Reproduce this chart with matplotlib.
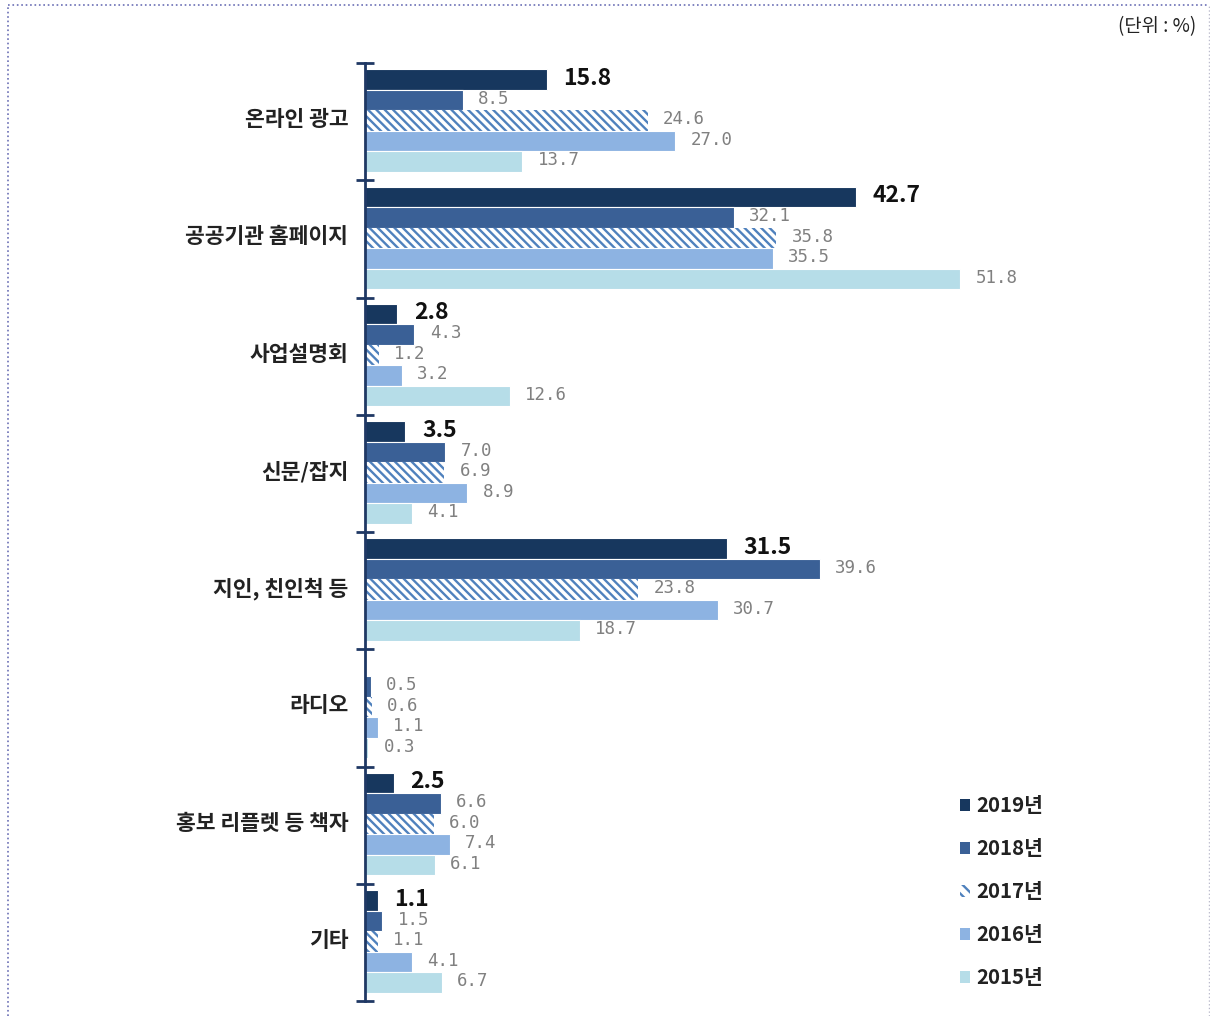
import matplotlib
matplotlib.use("Agg")
import matplotlib.pyplot as plt
from matplotlib.patches import Patch
from matplotlib.lines import Line2D
import numpy as np

plt.rcParams['font.family'] = ['Noto Sans CJK KR', 'DejaVu Sans']
plt.rcParams['hatch.linewidth'] = 1.7

categories = ['온라인 광고', '공공기관 홈페이지', '사업설명회', '신문/잡지',
              '지인, 친인척 등', '라디오', '홍보 리플렛 등 책자', '기타']
years = ['2019년', '2018년', '2017년', '2016년', '2015년']
v2019 = [15.8, 42.7, 2.8, 3.5, 31.5, None, 2.5, 1.1]
v2018 = [8.5, 32.1, 4.3, 7.0, 39.6, 0.5, 6.6, 1.5]
v2017 = [24.6, 35.8, 1.2, 6.9, 23.8, 0.6, 6.0, 1.1]
v2016 = [27.0, 35.5, 3.2, 8.9, 30.7, 1.1, 7.4, 4.1]
v2015 = [13.7, 51.8, 12.6, 4.1, 18.7, 0.3, 6.1, 6.7]
series = [v2019, v2018, v2017, v2016, v2015]

colors = ['#17375e', '#3a6096', 'white', '#8db3e2', '#b6dde8']
hatch_color = '#4f81bd'
HATCH = '\\\\\\\\'

fig = plt.figure(figsize=(12.10, 10.16), dpi=100)
ax = fig.add_axes([365/1210, 1-1001/1016, (1200-365)/1210, (1001-63)/1016])

n = len(categories)
bh = 0.1748
start = 0.0554
for j, vals in enumerate(series):
    ys = np.arange(n) + start + bh*j + bh/2
    widths = [v if v is not None else 0 for v in vals]
    if j == 2:
        ax.barh(ys, widths, height=bh, color='white', edgecolor=hatch_color,
                hatch=HATCH, linewidth=0, zorder=2)
    else:
        ax.barh(ys, widths, height=bh, color=colors[j], edgecolor='white',
                linewidth=0.8, zorder=2)
    for y, v in zip(ys, vals):
        if v is None:
            continue
        if j == 0:
            ax.annotate(f'{v:.1f}', xy=(v, y), xytext=(12, 1), textcoords='offset points',
                        va='center', ha='left', fontsize=16.5, fontweight='bold',
                        color='#111111', zorder=5,
                        family=['Noto Sans CJK KR', 'DejaVu Sans'])
        else:
            ax.annotate(f'{v:.1f}', xy=(v, y), xytext=(11, 1), textcoords='offset points',
                        va='center', ha='left', fontsize=12.5, color='#808080',
                        zorder=5, family=['DejaVu Sans Mono'])

ax.set_xlim(0, 835/11.49)
ax.set_ylim(n, 0)
ax.set_xticks([])
ax.set_yticks(np.arange(n+1))
ax.set_yticklabels([])
ax.set_yticks(np.arange(n) + 0.465, minor=True)
ax.set_yticklabels(categories, minor=True, fontsize=15.5, fontweight='bold', color='#222222')
ax.tick_params(axis='y', which='major', direction='inout', length=13, width=2, color='#1f3864')
ax.tick_params(axis='y', which='minor', length=0, pad=12)
for s in ['top', 'right', 'bottom']:
    ax.spines[s].set_visible(False)
ax.spines['left'].set_color('#1f3864')
ax.spines['left'].set_linewidth(2)
ax.spines['left'].set_zorder(4)

handles = []
for j in range(5):
    if j == 2:
        handles.append(Patch(facecolor='white', edgecolor=hatch_color, hatch='\\\\\\', linewidth=0))
    else:
        handles.append(Patch(facecolor=colors[j], edgecolor='none'))
leg = fig.legend(handles, years, loc='upper left', bbox_to_anchor=(950/1210, 1-785/1016),
                 frameon=False, handlelength=0.5, handleheight=0.5, handletextpad=0.3,
                 labelspacing=1.08, borderpad=0, prop={'size': 14.7, 'weight': 'bold'})
for t in leg.get_texts():
    t.set_color('#222222')

fig.text(1196/1210, 1-27/1016, '(단위 : %)', ha='right', va='center', fontsize=13.5, color='#222222')

bc = '#6b6fb5'
fig.add_artist(Line2D([8/1210, 1209/1210], [1-5/1016, 1-5/1016], color=bc, ls=':', lw=1.2))
fig.add_artist(Line2D([8/1210, 8/1210], [0, 1-5/1016], color=bc, ls=':', lw=1.2))
fig.add_artist(Line2D([1208.5/1210, 1208.5/1210], [0, 1-5/1016], color='#bbbbcc', ls=':', lw=1))

fig.savefig('out.png', dpi=100)
